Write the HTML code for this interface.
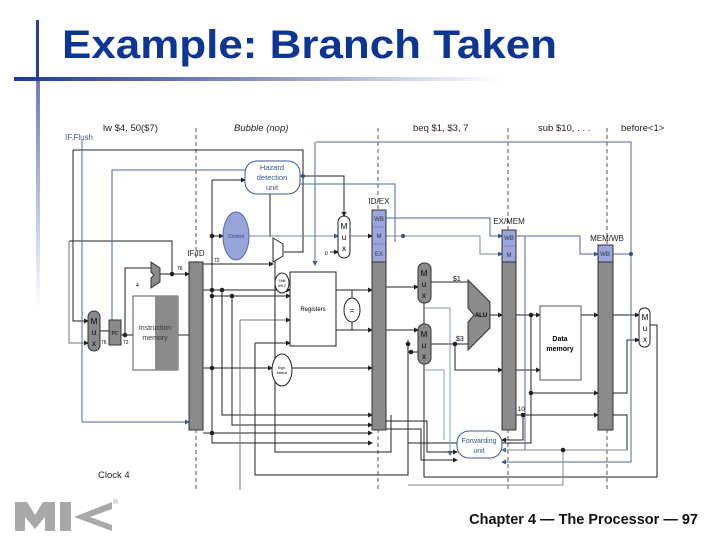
<!DOCTYPE html>
<html><head><meta charset="utf-8"><style>
html,body{margin:0;padding:0;background:#fff;}
body{width:720px;height:540px;overflow:hidden;position:relative;font-family:"Liberation Sans",sans-serif;}
</style></head><body>
<svg width="720" height="540" viewBox="0 0 720 540" xmlns="http://www.w3.org/2000/svg" font-family="Liberation Sans, sans-serif">
<defs>
<linearGradient id="hg" x1="0" x2="1"><stop offset="0" stop-color="#1b3a94"/><stop offset="0.5" stop-color="#8a93c2"/><stop offset="1" stop-color="#ffffff"/></linearGradient>
<linearGradient id="vg" x1="0" y1="0" x2="0" y2="1"><stop offset="0" stop-color="#6f7ab8"/><stop offset="1" stop-color="#ffffff"/></linearGradient>
<marker id="a" markerWidth="5" markerHeight="5" refX="4" refY="2.5" orient="auto"><path d="M0,0L5,2.5L0,5z" fill="#222"/></marker>
<marker id="b" markerWidth="5" markerHeight="5" refX="4" refY="2.5" orient="auto"><path d="M0,0L5,2.5L0,5z" fill="#3a5a8a"/></marker>
</defs>
<rect x="36" y="20" width="3" height="60" fill="#2a3f95"/>
<rect x="36" y="80" width="4" height="230" fill="url(#vg)"/>
<rect x="14" y="77" width="490" height="4" fill="url(#hg)"/>
<text x="62" y="58" font-size="40" font-weight="bold" fill="#0d3593" textLength="495" lengthAdjust="spacingAndGlyphs">Example: Branch Taken</text>

<g stroke="#555" stroke-width="1" stroke-dasharray="4,3">
<line x1="196" y1="128" x2="196" y2="492"/><line x1="378" y1="128" x2="378" y2="492"/>
<line x1="508" y1="128" x2="508" y2="492"/><line x1="607" y1="128" x2="607" y2="492"/>
</g>
<g font-size="9.5" fill="#222">
<text x="103" y="131">lw $4, 50($7)</text>
<text x="234" y="131" font-style="italic">Bubble (nop)</text>
<text x="413" y="131">beq $1, $3, 7</text>
<text x="538" y="131">sub $10, . . .</text>
<text x="621" y="131">before&lt;1&gt;</text>
<text x="98" y="478">Clock 4</text>
</g>
<text x="65" y="140" font-size="8" fill="#3a5a8a">IF.Flush</text>

<g stroke="#222" stroke-width="1" fill="none">
<path d="M73,150 H303 V252 H284"/>
<path d="M73,150 V321 H88" marker-end="url(#a)"/>
<path d="M69,241 H172 V272" />
<path d="M69,241 V343 H88" stroke="#777" marker-end="url(#a)"/>
<path d="M100,331 H109"/>
<path d="M121,335 H133"/>
<path d="M125,335 V268 H151"/>
<path d="M160,274 H189" marker-end="url(#a)"/>
<path d="M178,335 H189"/>
<path d="M203,264 H273" marker-end="url(#a)"/>
<path d="M212,180 H245" marker-end="url(#a)"/>
<path d="M212,180 V443 H372" marker-end="url(#a)"/>
<path d="M212,236 H223" marker-end="url(#a)"/>
<path d="M300,176 H344 V216" marker-end="url(#a)"/>
<path d="M270,237 V185"/>
<path d="M203,290 H290" marker-end="url(#a)"/>
<path d="M212,296 H290" marker-end="url(#a)"/>
<path d="M222,290 V415 H372" marker-end="url(#a)"/>
<path d="M232,296 V425 H372" marker-end="url(#a)"/>
<path d="M203,368 H272" marker-end="url(#a)"/>
<path d="M292,368 H372" marker-end="url(#a)"/>
<path d="M203,433 H372" marker-end="url(#a)"/>
<path d="M240,320 H290" stroke="#777" marker-end="url(#a)"/>
<path d="M240,320 V490" stroke="#777"/>
<path d="M255,343 H290" marker-end="url(#a)"/>
<path d="M255,343 V475 H408 V340"/>
<path d="M275,258 V452 H391 V415"/>
<path d="M336,290 H372" marker-end="url(#a)"/>
<path d="M336,330 H372" marker-end="url(#a)"/>
<path d="M352,290 V298 M352,322 V330"/>
<path d="M349,236 H372" stroke="#777" marker-end="url(#a)"/>
<path d="M330,252 H338" marker-end="url(#a)"/>
<path d="M386,287 H418" marker-end="url(#a)"/>
<path d="M386,330 H418" marker-end="url(#a)"/>
<path d="M386,421 H427 V452 H457" marker-end="url(#a)"/>
<path d="M386,429 H421 V460 H457" marker-end="url(#a)"/>
<path d="M431,282 H468"/>
<path d="M431,344 H468"/>
<path d="M455,344 V370 H502" marker-end="url(#a)"/>
<path d="M490,315 H502" marker-end="url(#a)"/>
<path d="M516,315 H540" marker-end="url(#a)"/>
<path d="M531,315 V443 H408"/>
<path d="M531,393 H598" marker-end="url(#a)"/>
<path d="M516,370 H540" marker-end="url(#a)"/>
<path d="M581,315 H598" marker-end="url(#a)"/>
<path d="M613,315 H639" marker-end="url(#a)"/>
<path d="M613,393 H627 V340 H639" marker-end="url(#a)"/>
<path d="M613,415 H627 V450 H620"/>
<path d="M650,325 H657 V477 H424 V290 H418" marker-end="url(#a)"/>
<path d="M516,415 H598" marker-end="url(#a)"/>
<path d="M523,415 V440 H502" marker-end="url(#a)"/>
<path d="M418,352 H408"/>
</g>
<g stroke="#4a6a9a" stroke-width="1" fill="none">
<path d="M82,140 V422 H189" marker-end="url(#b)"/>
<path d="M112,320 V170 H245"/>
<path d="M300,184 H395 V242"/>
<path d="M316,142 H631 V462 H502" marker-end="url(#b)"/>
<path d="M315,142 V265" marker-end="url(#b)"/>
<path d="M236,236 H338" stroke="#7a8aaa" marker-end="url(#b)"/>
<path d="M386,218 H490 V236 H502" marker-end="url(#b)"/>
<path d="M386,236 H480 V254 H502" stroke="#7a8aaa" marker-end="url(#b)"/>
<path d="M516,236 H580 V254 H598" marker-end="url(#b)"/>
<path d="M613,254 H631"/>
<path d="M525,236 V450 H502" marker-end="url(#b)"/>
<path d="M425,308 H450 V455" stroke="#8a9aba" marker-end="url(#b)"/>
<path d="M425,370 H444 V440" stroke="#8a9aba"/>
<path d="M502,450 H627" stroke="#888"/>
<path d="M563,450 V485 H408" stroke="#888"/>
</g>
<g fill="#222"><circle cx="212" cy="236" r="2.3"/><circle cx="212" cy="290" r="2.3"/><circle cx="212" cy="296" r="2.3"/><circle cx="222" cy="290" r="2.3"/><circle cx="232" cy="296" r="2.3"/><circle cx="212" cy="368" r="2.3"/><circle cx="212" cy="433" r="2.3"/><circle cx="172" cy="274" r="2.3"/><circle cx="125" cy="335" r="2.3"/><circle cx="531" cy="315" r="2.3"/><circle cx="531" cy="393" r="2.3"/><circle cx="523" cy="415" r="2.3"/><circle cx="455" cy="344" r="2.3"/><circle cx="408" cy="344" r="2.3"/><circle cx="411" cy="352" r="2.3"/><circle cx="563" cy="450" r="2.3"/></g>
<g fill="#2f4f8a"><circle cx="303" cy="176" r="2"/><circle cx="403" cy="236" r="2"/><circle cx="631" cy="254" r="2"/></g>

<g stroke="#333" stroke-width="1">
<rect x="189" y="262" width="14" height="168" fill="#8a8a8a"/>
<rect x="372" y="262" width="14" height="168" fill="#8a8a8a"/>
<rect x="372" y="210" width="14" height="52" fill="#9aa6dc"/>
<rect x="502" y="262" width="14" height="168" fill="#8a8a8a"/>
<rect x="502" y="230" width="14" height="32" fill="#9aa6dc"/>
<rect x="598" y="262" width="15" height="168" fill="#8a8a8a"/>
<rect x="598" y="245" width="15" height="17" fill="#9aa6dc"/>
</g>
<g stroke="#6070b0" stroke-width="0.6"><line x1="372" y1="227" x2="386" y2="227"/><line x1="372" y1="244" x2="386" y2="244"/><line x1="502" y1="246" x2="516" y2="246"/></g>
<g font-size="6" fill="#333" text-anchor="middle">
<text x="379" y="221">WB</text><text x="379" y="238">M</text><text x="379" y="256">EX</text>
<text x="509" y="240">WB</text><text x="509" y="257">M</text><text x="605" y="256">WB</text>
</g>
<g font-size="8" fill="#222" text-anchor="middle">
<text x="196" y="256">IF/ID</text><text x="379" y="204">ID/EX</text><text x="509" y="224">EX/MEM</text><text x="607" y="241">MEM/WB</text>
</g>

<rect x="245" y="161" width="55" height="33" rx="12" fill="#fff" stroke="#3a5a8a"/>
<text x="272" y="170" font-size="7.5" fill="#3a5a8a" text-anchor="middle">Hazard</text>
<text x="272" y="180" font-size="7.5" fill="#3a5a8a" text-anchor="middle">detection</text>
<text x="272" y="190" font-size="7.5" fill="#3a5a8a" text-anchor="middle">unit</text>
<ellipse cx="236" cy="236" rx="13" ry="24" fill="#98a4d6" stroke="#5a6aa8"/>
<text x="236" y="238" font-size="5" fill="#2f3f8a" text-anchor="middle">Control</text>
<rect x="338" y="216" width="12" height="42" rx="6" fill="#fff" stroke="#222"/>
<text x="344" y="229" font-size="8" text-anchor="middle">M</text><text x="344" y="240" font-size="8" text-anchor="middle">u</text><text x="344" y="251" font-size="8" text-anchor="middle">x</text>
<text x="325" y="255" font-size="5">0</text>
<path d="M273,238 L283,244 L283,256 L273,262 Z" fill="#fff" stroke="#222"/>
<rect x="290" y="272" width="46" height="74" fill="#fff" stroke="#222"/>
<text x="313" y="311" font-size="6" text-anchor="middle">Registers</text>
<ellipse cx="352" cy="310" rx="8" ry="12" fill="#fff" stroke="#222"/>
<text x="352" y="313" font-size="7" text-anchor="middle">=</text>
<ellipse cx="282" cy="283" rx="7" ry="10" fill="#fff" stroke="#222"/>
<text x="282" y="282" font-size="3.5" text-anchor="middle">Shift</text><text x="282" y="287" font-size="3.5" text-anchor="middle">left 2</text>
<ellipse cx="282" cy="370" rx="10" ry="16" fill="#fff" stroke="#222"/>
<text x="282" y="369" font-size="3.5" text-anchor="middle">Sign-</text><text x="282" y="374" font-size="3.5" text-anchor="middle">extend</text>
<rect x="88" y="311" width="12" height="40" rx="6" fill="#8a8a8a" stroke="#333"/>
<text x="94" y="324" font-size="8" text-anchor="middle">M</text><text x="94" y="335" font-size="8" text-anchor="middle">u</text><text x="94" y="346" font-size="8" text-anchor="middle">x</text>
<rect x="109" y="320" width="12" height="25" fill="#8a8a8a" stroke="#333"/>
<text x="115" y="335" font-size="5" text-anchor="middle">PC</text>
<text x="101" y="344" font-size="5">76</text><text x="123" y="344" font-size="5">72</text>
<rect x="133" y="296" width="45" height="74" fill="#fff" stroke="#555"/>
<rect x="155" y="296" width="23" height="74" fill="#8a8a8a"/>
<text x="155" y="330" font-size="7" text-anchor="middle" fill="#333">Instruction</text>
<text x="155" y="340" font-size="7" text-anchor="middle" fill="#333">memory</text>
<path d="M151,262 L160,268 L160,282 L151,288 L151,278 L154,275 L151,272 Z" fill="#8a8a8a" stroke="#333"/>
<text x="136" y="287" font-size="5">4</text>
<text x="177" y="270" font-size="5">76</text><text x="214" y="262" font-size="5">72</text>
<rect x="418" y="263" width="13" height="40" rx="6" fill="#8a8a8a" stroke="#333"/>
<text x="424" y="276" font-size="8" text-anchor="middle">M</text><text x="424" y="287" font-size="8" text-anchor="middle">u</text><text x="424" y="298" font-size="8" text-anchor="middle">x</text>
<rect x="418" y="324" width="13" height="40" rx="6" fill="#8a8a8a" stroke="#333"/>
<text x="424" y="337" font-size="8" text-anchor="middle">M</text><text x="424" y="348" font-size="8" text-anchor="middle">u</text><text x="424" y="359" font-size="8" text-anchor="middle">x</text>
<path d="M468,280 L490,302 L490,328 L468,350 L468,322 L474,315 L468,308 Z" fill="#8a8a8a" stroke="#333"/>
<text x="481" y="317" font-size="6" font-weight="bold" text-anchor="middle">ALU</text>
<text x="453" y="281" font-size="7">$1</text><text x="456" y="341" font-size="7">$3</text>
<rect x="540" y="306" width="41" height="74" fill="#fff" stroke="#555"/>
<text x="560" y="341" font-size="7" font-weight="bold" text-anchor="middle">Data</text>
<text x="560" y="351" font-size="7" font-weight="bold" text-anchor="middle">memory</text>
<rect x="639" y="308" width="11" height="39" rx="5" fill="#fff" stroke="#222"/>
<text x="645" y="320" font-size="8" text-anchor="middle">M</text><text x="645" y="331" font-size="8" text-anchor="middle">u</text><text x="645" y="342" font-size="8" text-anchor="middle">x</text>
<text x="518" y="411" font-size="6">10</text>
<rect x="457" y="431" width="45" height="27" rx="12" fill="#fff" stroke="#3a5a8a"/>
<text x="479" y="443" font-size="7" fill="#3a5a8a" text-anchor="middle">Forwarding</text>
<text x="479" y="453" font-size="7" fill="#3a5a8a" text-anchor="middle">unit</text>

<g fill="#a8a8a8">
<path d="M15,502 H27 L35,515 L43,502 H55 V531 H45 V517 L35,529 L25,517 V531 H15 Z"/>
<path d="M60,502 H71 V531 H60 Z M74,517 L112,502 V509 L90,517 L112,525 V531 Z"/>
</g>
<text x="113" y="504" font-size="7" fill="#999">®</text>
<text x="698" y="524" font-size="14.5" font-weight="bold" fill="#111" text-anchor="end">Chapter 4 — The Processor — 97</text>
</svg>
</body></html>
